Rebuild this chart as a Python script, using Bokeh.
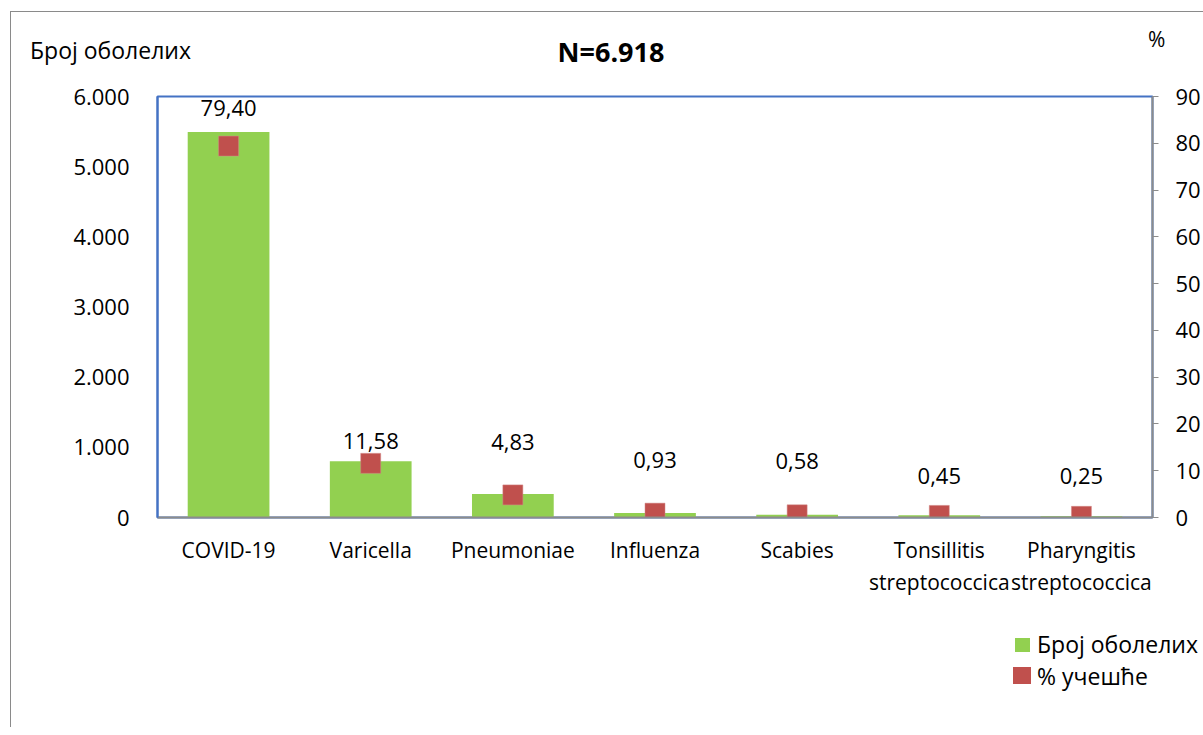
from bokeh.plotting import figure
from bokeh.models import (ColumnDataSource, Range1d, LinearAxis, FixedTicker,
                          LabelSet, Div)
from bokeh.layouts import column
from bokeh.core.properties import value
from bokeh.embed import file_html
from bokeh.resources import INLINE

categories = ["COVID-19", "Varicella", "Pneumoniae", "Influenza", "Scabies",
              "Tonsillitis\nstreptococcica", "Pharyngitis\nstreptococcica"]
counts = [5493, 801, 334, 64, 40, 31, 17]
percents = [79.40, 11.58, 4.83, 0.93, 0.58, 0.45, 0.25]
pct_labels = ["79,40", "11,58", "4,83", "0,93", "0,58", "0,45", "0,25"]
left_ticks = [0, 1000, 2000, 3000, 4000, 5000, 6000]
left_tick_labels = ["0", "1.000", "2.000", "3.000", "4.000", "5.000", "6.000"]
right_ticks = [0, 10, 20, 30, 40, 50, 60, 70, 80, 90]
series_names = ["Број оболелих", "% учешће"]
left_title = "Број оболелих"
right_title = "%"
chart_title = "N=6.918"

# style: pixel offsets of the data labels above their markers (as placed in the original)
label_offsets_px = [38, 22, 53, 53, 54, 39, 40]

FONT = "Open Sans"
BAR = "#92D050"
MARK = "#C0504D"
W = 1192

src = ColumnDataSource(dict(cat=categories, cnt=counts, pct=percents, lab=pct_labels,
                            off=label_offsets_px))

p = figure(width=W, height=525, x_range=categories, y_range=Range1d(0, 6000),
           output_backend="svg", toolbar_location=None,
           min_border_left=146, min_border_right=48, min_border_top=14,
           min_border_bottom=90, margin=0)
p.extra_y_ranges = {"pct": Range1d(0, 90)}

p.xgrid.visible = False
p.ygrid.visible = False
p.outline_line_color = "#4472C4"
p.outline_line_width = 2
p.background_fill_color = "white"
p.border_fill_color = "white"

bars = p.vbar(x="cat", top="cnt", width=0.575, source=src, color=BAR, line_color=None)
marks = p.scatter(x="cat", y="pct", y_range_name="pct", source=src, marker="square",
                  size=20, fill_color=MARK, line_color="#D28A88", line_width=0.5)

labels = LabelSet(x="cat", y="pct", y_range_name="pct", text="lab", source=src,
                  text_align="center", text_baseline="middle", y_offset="off",
                  text_font=value(FONT), text_font_size="22px", text_color="black")
p.add_layout(labels)

# left axis
ya = p.yaxis[0]
ya.ticker = FixedTicker(ticks=left_ticks)
ya.major_label_overrides = {t: l for t, l in zip(left_ticks, left_tick_labels)}
ya.axis_line_color = "#4472C4"
ya.axis_line_width = 2
ya.major_tick_line_color = None
ya.minor_tick_line_color = None
ya.major_label_text_font = FONT
ya.major_label_text_font_size = "22px"
ya.major_label_text_color = "black"
ya.major_label_standoff = 22

# right axis
ra = LinearAxis(y_range_name="pct", ticker=FixedTicker(ticks=right_ticks))
ra.axis_line_color = "#8C8C8C"
ra.axis_line_width = 2
ra.major_tick_line_color = "#8C8C8C"
ra.major_tick_in = 0
ra.major_tick_out = 6
ra.minor_tick_line_color = None
ra.major_label_text_font = FONT
ra.major_label_text_font_size = "22px"
ra.major_label_text_color = "black"
ra.major_label_standoff = 17
p.add_layout(ra, "right")

# x axis
xa = p.xaxis[0]
xa.axis_line_color = "#8C8C8C"
xa.axis_line_width = 2
xa.major_tick_line_color = None
xa.minor_tick_line_color = None
xa.major_label_text_font = FONT
xa.major_label_text_font_size = "21px"
xa.major_label_text_color = "black"
xa.major_label_standoff = 12
xa.major_label_text_line_height = 1.15


def span(text, left, top, size, extra=""):
    return (f'<span style="position:absolute;left:{left}px;top:{top}px;'
            f'transform:translateY(-50%);white-space:nowrap;line-height:1.2;'
            f'font-size:{size}px;color:black;{extra}">{text}</span>')


def sq(color, left, top, w, h):
    return (f'<span style="position:absolute;left:{left}px;top:{top}px;'
            f'width:{w}px;height:{h}px;background:{color};"></span>')


box = f'position:relative;width:{W}px;font-family:\'{FONT}\';'

head_html = (f'<div style="{box}height:70px;">'
             + span(left_title, 19, 39, 23)
             + span(chart_title, 600, 40, 27,
                    "font-weight:bold;transform:translate(-50%,-50%);")
             + span(right_title, 1137, 28, 21)
             + '</div>')
head = Div(text=head_html, width=W, height=70, margin=0)

foot_html = (f'<div style="{box}height:120px;">'
             + sq(BAR, 1004, 31, 15, 14)
             + span(series_names[0], 1026, 38, 23)
             + sq(MARK, 1002, 60, 18, 17)
             + span(series_names[1], 1026, 70, 23)
             + '</div>')
foot = Div(text=foot_html, width=W, height=120, margin=0)

layout = column(head, p, foot, spacing=0)
layout.styles = {"border-left": "1px solid #8a8a8a", "border-top": "1px solid #8a8a8a",
                 "margin-left": "10px", "margin-top": "11px", "background": "white"}

open("out.html", "w").write(file_html(layout, INLINE))
